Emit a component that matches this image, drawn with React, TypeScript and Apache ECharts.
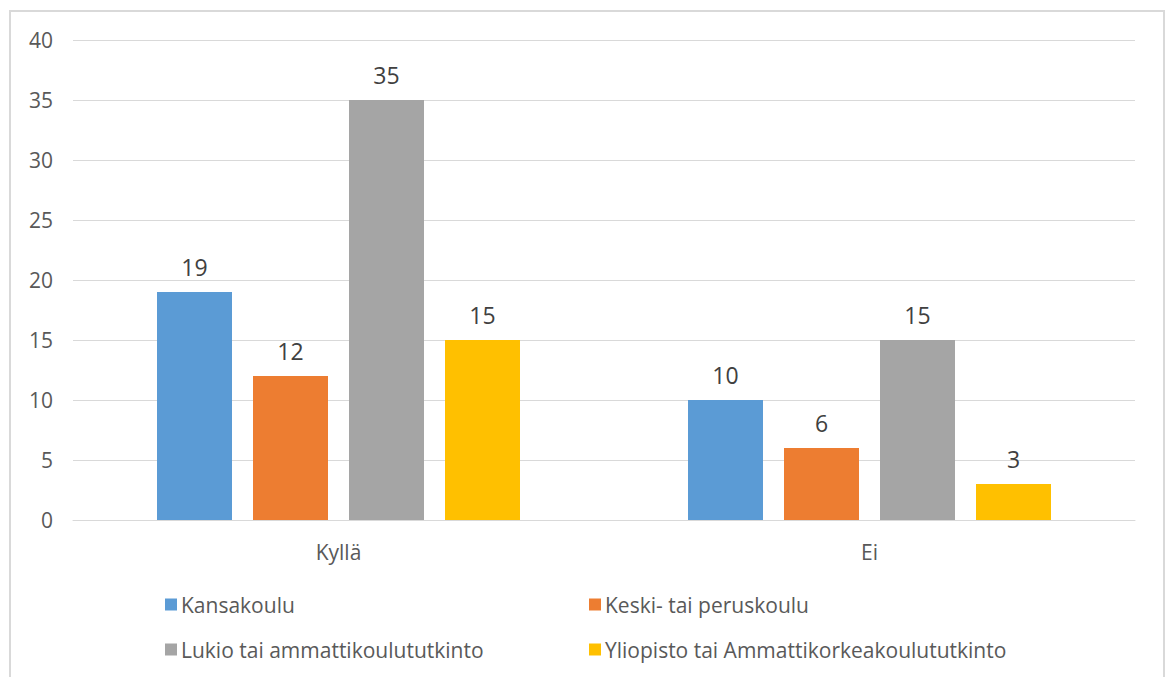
import React, { useEffect, useRef } from "react";
import * as echarts from "echarts";

const categories = ["Kyllä", "Ei"];
const seriesNames = [
  "Kansakoulu",
  "Keski- tai peruskoulu",
  "Lukio tai ammattikoulututkinto",
  "Yliopisto tai Ammattikorkeakoulututkinto",
];
const kansakoulu = [19, 10];
const keskiPeruskoulu = [12, 6];
const lukioAmmatti = [35, 15];
const yliopisto = [15, 3];
const colors = ["#5b9bd5", "#ed7d31", "#a5a5a5", "#ffc000"];

const FONT = "'Open Sans', 'Noto Sans', sans-serif";

export default function App() {
  const ref = useRef<HTMLDivElement>(null);
  useEffect(() => {
    if (!ref.current) return;
    const chart = echarts.init(ref.current, null, { renderer: "svg" });
    const values = [kansakoulu, keskiPeruskoulu, lukioAmmatti, yliopisto];
    const legendText = { fontFamily: FONT, fontSize: 21, color: "#595959", padding: [0, 0, 0, -1] };
    chart.setOption({
      animation: false,
      backgroundColor: "#ffffff",
      textStyle: { fontFamily: FONT },
      graphic: [
        {
          type: "rect",
          shape: { x: 10, y: 11, width: 1154, height: 700 },
          style: { fill: "none", stroke: "#d9d9d9", lineWidth: 2 },
          silent: true,
        },
      ],
      grid: { left: 73, right: 36, top: 40, bottom: 157 },
      legend: [
        {
          orient: "vertical",
          left: 165,
          top: 594,
          padding: 0,
          itemWidth: 12,
          itemHeight: 12,
          itemGap: 24,
          icon: "rect",
          data: [seriesNames[0], seriesNames[2]],
          textStyle: legendText,
        },
        {
          orient: "vertical",
          left: 589,
          top: 594,
          padding: 0,
          itemWidth: 12,
          itemHeight: 12,
          itemGap: 24,
          icon: "rect",
          data: [seriesNames[1], seriesNames[3]],
          textStyle: legendText,
        },
      ],
      xAxis: {
        type: "category",
        data: categories,
        axisLine: { lineStyle: { color: "#d9d9d9", width: 1 } },
        axisTick: { show: false },
        axisLabel: { fontFamily: FONT, fontSize: 21, color: "#595959", margin: 21 },
      },
      yAxis: {
        type: "value",
        min: 0,
        max: 40,
        interval: 5,
        axisLine: { show: false },
        axisTick: { show: false },
        splitLine: { lineStyle: { color: "#d9d9d9", width: 1 } },
        axisLabel: { fontFamily: FONT, fontSize: 21, color: "#595959", margin: 20 },
      },
      series: seriesNames.map((name, i) => ({
        name,
        type: "bar",
        data: values[i],
        barWidth: 75,
        barGap: "28%",
        itemStyle: { color: colors[i] },
        label: {
          show: true,
          position: "top",
          distance: 14,
          fontFamily: FONT,
          fontSize: 23,
          color: "#404040",
        },
      })),
    });
    return () => chart.dispose();
  }, []);
  return (
    <div
      ref={ref}
      style={{ position: "fixed", left: 0, top: 0, width: 1171, height: 677 }}
    />
  );
}
